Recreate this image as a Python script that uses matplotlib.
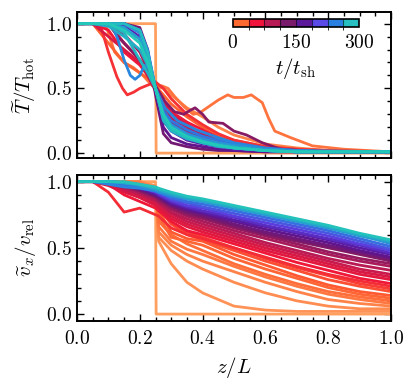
import numpy as np
import matplotlib
matplotlib.use("Agg")
import matplotlib.pyplot as plt
from matplotlib.colors import LinearSegmentedColormap, ListedColormap, BoundaryNorm, Normalize
from matplotlib.ticker import MultipleLocator

plt.rcParams['font.family'] = 'serif'
plt.rcParams['font.serif'] = ['cmr10', 'DejaVu Serif']
plt.rcParams['mathtext.fontset'] = 'cm'
plt.rcParams['axes.formatter.use_mathtext'] = True

# ---------------- colour map (time) ----------------
cmap_nodes = [0.0, 0.1, 0.2, 0.32, 0.44, 0.56, 0.69, 0.82, 1.0]
cmap_colors = ['#ffa060', '#ff6030', '#f01838', '#b81a55', '#7a1a68',
               '#5a1498', '#5a40e0', '#2a80e0', '#22c8b8']
cmap = LinearSegmentedColormap.from_list('tcmap', list(zip(cmap_nodes, cmap_colors)))
norm = Normalize(0, 300)
cbar_ticks = [0, 150, 300]
cbar_block_colors = ['#ff6a30', '#f0143c', '#b81a55', '#7a1a6a',
                     '#5a1a9a', '#5a4ae8', '#2a80e0', '#28c0c0']

# ---------------- top panel: temperature ----------------
step_z = [0.0, 0.25, 0.252, 1.0]
step_T = [1.0, 1.0, 0.0, 0.0]
step_v = [1.0, 1.0, 0.0, 0.0]
step_t = 0

zT = [0, 0.05, 0.1, 0.15, 0.2, 0.225, 0.25, 0.275, 0.3, 0.35, 0.4, 0.45, 0.5, 0.6, 0.7, 0.8, 1.0]
T_times = [15, 30, 60, 75, 90, 105, 140, 160, 180, 200, 220, 240, 260, 270, 280, 285, 290, 300]
T_rows = [
    [1, 1, 1, 0.85, 0.72, 0.62, 0.52, 0.50, 0.45, 0.35, 0.28, 0.20, 0.14, 0.07, 0.04, 0.02, 0.01],
    [1, 1, 0.85, 0.70, 0.62, 0.58, 0.52, 0.45, 0.38, 0.28, 0.20, 0.14, 0.10, 0.05, 0.03, 0.02, 0.01],
    [1, 1, 0.95, 0.78, 0.68, 0.60, 0.50, 0.40, 0.32, 0.24, 0.18, 0.12, 0.08, 0.04, 0.02, 0.01, 0.01],
    [1, 1, 0.90, 0.80, 0.70, 0.62, 0.50, 0.38, 0.30, 0.22, 0.15, 0.10, 0.07, 0.03, 0.02, 0.01, 0.01],
    [1, 1, 1, 0.85, 0.72, 0.60, 0.48, 0.35, 0.27, 0.20, 0.14, 0.09, 0.06, 0.03, 0.02, 0.01, 0.01],
    [1, 1, 1, 0.92, 0.78, 0.65, 0.50, 0.32, 0.24, 0.17, 0.12, 0.08, 0.05, 0.02, 0.01, 0.01, 0.01],
    [1, 1, 1, 1, 0.97, 0.80, 0.45, 0.15, 0.08, 0.05, 0.03, 0.02, 0.02, 0.01, 0.01, 0.01, 0.01],
    [1, 1, 1, 1, 0.95, 0.78, 0.48, 0.20, 0.12, 0.07, 0.05, 0.03, 0.02, 0.01, 0.01, 0.01, 0.01],
    [1, 1, 1, 0.98, 0.90, 0.75, 0.50, 0.25, 0.17, 0.10, 0.07, 0.05, 0.03, 0.02, 0.01, 0.01, 0.01],
    [1, 1, 1, 1, 0.93, 0.78, 0.50, 0.28, 0.20, 0.13, 0.09, 0.06, 0.04, 0.02, 0.01, 0.01, 0.01],
    [1, 1, 1, 0.97, 0.88, 0.72, 0.50, 0.30, 0.22, 0.15, 0.10, 0.07, 0.05, 0.02, 0.01, 0.01, 0.01],
    [1, 1, 1, 1, 0.95, 0.80, 0.50, 0.33, 0.25, 0.18, 0.13, 0.10, 0.07, 0.03, 0.02, 0.01, 0.01],
    [1, 1, 1, 1, 0.93, 0.75, 0.50, 0.30, 0.22, 0.15, 0.11, 0.08, 0.06, 0.03, 0.02, 0.01, 0.01],
    [1, 1, 1, 0.97, 0.88, 0.72, 0.50, 0.28, 0.20, 0.13, 0.09, 0.07, 0.05, 0.02, 0.01, 0.01, 0.01],
    [1, 1, 0.98, 0.90, 0.80, 0.68, 0.50, 0.25, 0.17, 0.11, 0.08, 0.05, 0.04, 0.02, 0.01, 0.01, 0.01],
    [1, 1, 1, 0.93, 0.72, 0.62, 0.50, 0.27, 0.19, 0.12, 0.08, 0.06, 0.04, 0.02, 0.01, 0.01, 0.01],
    [1, 1, 1, 1, 0.95, 0.78, 0.50, 0.27, 0.18, 0.12, 0.08, 0.06, 0.04, 0.02, 0.01, 0.01, 0.01],
    [1, 1, 1, 0.95, 0.85, 0.70, 0.50, 0.30, 0.20, 0.13, 0.09, 0.06, 0.04, 0.02, 0.01, 0.01, 0.01],
]

# individual, irregular temperature profiles
bump_t = 22
bump_z = [0, 0.09, 0.12, 0.15, 0.18, 0.21, 0.24, 0.27, 0.29, 0.31, 0.34, 0.37, 0.39, 0.42,
          0.45, 0.48, 0.50, 0.53, 0.555, 0.59, 0.61, 0.63, 0.68, 0.75, 0.85, 1.0]
bump_T = [1, 1, 0.78, 0.70, 0.66, 0.60, 0.52, 0.52, 0.50, 0.44, 0.36, 0.30, 0.31, 0.36,
          0.41, 0.45, 0.43, 0.43, 0.45, 0.39, 0.27, 0.17, 0.12, 0.056, 0.03, 0.01]

dip_t = 50
dip_z = [0, 0.073, 0.1, 0.127, 0.145, 0.16, 0.18, 0.2, 0.25, 0.275, 0.3, 0.35, 0.4, 0.45, 0.5, 0.6, 0.7, 0.8, 1.0]
dip_T = [1, 1, 0.78, 0.59, 0.50, 0.45, 0.47, 0.50, 0.55, 0.50, 0.42, 0.30, 0.22, 0.15, 0.10, 0.05, 0.03, 0.02, 0.01]

purp_t = 125
purp_z = [0, 0.1, 0.13, 0.17, 0.2, 0.23, 0.25, 0.28, 0.31, 0.34, 0.36, 0.376, 0.4, 0.42,
          0.465, 0.5, 0.54, 0.59, 0.65, 0.75, 1.0]
purp_T = [1, 1, 0.90, 0.80, 0.72, 0.62, 0.52, 0.40, 0.32, 0.30, 0.33, 0.35, 0.30, 0.24,
          0.23, 0.17, 0.14, 0.08, 0.03, 0.015, 0.01]

loop_t = 250
loop_z = [0, 0.11, 0.13, 0.15, 0.17, 0.185, 0.2, 0.215, 0.23, 0.25, 0.28, 0.32, 0.38,
          0.45, 0.5, 0.55, 0.6, 0.7, 1.0]
loop_T = [1, 1, 0.88, 0.72, 0.60, 0.57, 0.60, 0.68, 0.65, 0.50, 0.35, 0.25, 0.18,
          0.12, 0.08, 0.06, 0.04, 0.02, 0.01]

# ---------------- bottom panel: velocity ----------------
zv = [0, 0.05, 0.1, 0.15, 0.2, 0.25, 0.26, 0.3, 0.35, 0.4, 0.5, 0.6, 0.7, 0.8, 0.9, 1.0]
v_times = [6, 10, 15, 19, 24, 28, 33, 38, 45, 52, 60, 68, 75, 85, 95, 105, 115, 125,
           135, 145, 160, 175, 190, 205, 220, 235, 250, 265, 280, 295]
v_rows = [
    [1, 1, 1, 1, 1, 0.97, 0.55, 0.38, 0.24, 0.16, 0.06, 0.03, 0.02, 0.02, 0.02, 0.02],
    [1, 1, 1, 1, 1, 0.96, 0.58, 0.48, 0.40, 0.34, 0.24, 0.16, 0.10, 0.06, 0.04, 0.04],
    [1, 1, 1, 1, 1, 0.95, 0.62, 0.52, 0.45, 0.40, 0.32, 0.24, 0.17, 0.11, 0.08, 0.06],
    [1, 1, 1, 1, 0.99, 0.93, 0.66, 0.55, 0.49, 0.45, 0.36, 0.28, 0.21, 0.15, 0.11, 0.08],
    [1, 1, 1, 1, 0.98, 0.90, 0.70, 0.60, 0.53, 0.48, 0.38, 0.30, 0.23, 0.17, 0.13, 0.10],
    [1, 1, 1, 0.99, 0.96, 0.89, 0.74, 0.58, 0.55, 0.52, 0.42, 0.34, 0.27, 0.20, 0.15, 0.12],
    [1, 1, 1, 0.99, 0.95, 0.88, 0.78, 0.62, 0.57, 0.55, 0.45, 0.37, 0.29, 0.22, 0.17, 0.14],
    [1, 1, 1, 0.98, 0.92, 0.85, 0.80, 0.68, 0.60, 0.56, 0.48, 0.40, 0.33, 0.26, 0.21, 0.17],
    [1, 1, 0.98, 0.94, 0.90, 0.84, 0.80, 0.69, 0.62, 0.58, 0.50, 0.42, 0.35, 0.29, 0.23, 0.19],
    [1, 1, 0.92, 0.77, 0.80, 0.75, 0.74, 0.65, 0.60, 0.57, 0.50, 0.43, 0.36, 0.30, 0.25, 0.21],
    [1, 1, 0.98, 0.90, 0.85, 0.80, 0.78, 0.70, 0.63, 0.60, 0.53, 0.46, 0.39, 0.33, 0.27, 0.23],
    [1, 1, 0.97, 0.92, 0.88, 0.82, 0.80, 0.72, 0.66, 0.62, 0.55, 0.48, 0.42, 0.36, 0.30, 0.26],
    [1, 1, 0.98, 0.93, 0.88, 0.83, 0.81, 0.74, 0.68, 0.64, 0.57, 0.50, 0.44, 0.38, 0.32, 0.28],
    [1, 1, 0.99, 0.94, 0.90, 0.85, 0.83, 0.76, 0.70, 0.66, 0.59, 0.52, 0.46, 0.40, 0.34, 0.30],
    [1, 1, 0.99, 0.95, 0.91, 0.86, 0.84, 0.77, 0.72, 0.68, 0.61, 0.54, 0.48, 0.42, 0.37, 0.33],
    [1, 1, 0.99, 0.96, 0.92, 0.87, 0.85, 0.79, 0.74, 0.70, 0.63, 0.57, 0.51, 0.45, 0.40, 0.36],
    [1, 1, 1, 0.97, 0.93, 0.88, 0.86, 0.80, 0.75, 0.72, 0.65, 0.59, 0.53, 0.47, 0.42, 0.38],
    [1, 1, 1, 0.97, 0.93, 0.89, 0.87, 0.81, 0.76, 0.73, 0.66, 0.60, 0.55, 0.50, 0.45, 0.40],
    [1, 1, 1, 0.98, 0.94, 0.89, 0.88, 0.82, 0.77, 0.74, 0.67, 0.61, 0.56, 0.51, 0.46, 0.41],
    [1, 1, 1, 0.98, 0.94, 0.90, 0.88, 0.82, 0.78, 0.75, 0.68, 0.62, 0.57, 0.52, 0.47, 0.42],
    [1, 1, 1, 0.98, 0.95, 0.90, 0.89, 0.83, 0.79, 0.76, 0.70, 0.64, 0.59, 0.54, 0.48, 0.43],
    [1, 1, 1, 0.98, 0.95, 0.91, 0.90, 0.84, 0.80, 0.77, 0.71, 0.66, 0.61, 0.56, 0.50, 0.45],
    [1, 1, 1, 0.99, 0.96, 0.92, 0.90, 0.85, 0.81, 0.78, 0.73, 0.67, 0.62, 0.57, 0.52, 0.46],
    [1, 1, 1, 0.99, 0.96, 0.92, 0.91, 0.86, 0.82, 0.80, 0.74, 0.69, 0.64, 0.59, 0.53, 0.48],
    [1, 1, 1, 0.99, 0.97, 0.93, 0.92, 0.87, 0.84, 0.81, 0.76, 0.71, 0.66, 0.61, 0.55, 0.49],
    [1, 1, 0.99, 0.97, 0.96, 0.93, 0.92, 0.88, 0.85, 0.83, 0.78, 0.73, 0.68, 0.63, 0.57, 0.51],
    [1, 1, 0.98, 0.96, 0.95, 0.93, 0.92, 0.89, 0.87, 0.85, 0.80, 0.75, 0.70, 0.65, 0.60, 0.53],
    [1, 1, 1, 0.99, 0.97, 0.94, 0.93, 0.90, 0.87, 0.85, 0.80, 0.75, 0.70, 0.65, 0.59, 0.54],
    [1, 1, 1, 0.99, 0.98, 0.95, 0.94, 0.91, 0.88, 0.86, 0.81, 0.76, 0.71, 0.66, 0.60, 0.55],
    [1, 1, 1, 1, 0.98, 0.96, 0.95, 0.92, 0.89, 0.87, 0.82, 0.77, 0.72, 0.67, 0.61, 0.56],
]

# ---------------- figure ----------------
W, H = 416, 385
fig = plt.figure(figsize=(W / 100, H / 100), dpi=100)
ax1 = fig.add_axes([77 / W, 1 - 158.3 / H, 314 / W, 146.3 / H])
ax2 = fig.add_axes([77 / W, 1 - 320.7 / H, 314 / W, 145.7 / H], sharex=ax1)

lw = 2.0
T_curves = [(step_t, step_z, step_T)]
T_curves += [(t, zT, r) for t, r in zip(T_times, T_rows)]
T_curves += [(bump_t, bump_z, bump_T), (dip_t, dip_z, dip_T),
             (purp_t, purp_z, purp_T), (loop_t, loop_z, loop_T)]
T_curves.sort(key=lambda c: c[0])
for t, z, y in T_curves:
    ax1.plot(z, y, color=cmap(norm(t)), lw=lw, solid_joinstyle='round')

v_curves = [(step_t, step_z, step_v)] + [(t, zv, r) for t, r in zip(v_times, v_rows)]
v_curves.sort(key=lambda c: c[0])
for t, z, y in v_curves:
    ax2.plot(z, y, color=cmap(norm(t)), lw=lw, solid_joinstyle='round')

fs = 14
for ax in (ax1, ax2):
    ax.set_xlim(0, 1)
    ax.xaxis.set_major_locator(MultipleLocator(0.2))
    ax.xaxis.set_minor_locator(MultipleLocator(0.05))
    ax.yaxis.set_major_locator(MultipleLocator(0.5))
    ax.yaxis.set_minor_locator(MultipleLocator(0.1))
    ax.tick_params(which='both', direction='in', top=True, right=True, labelsize=fs, width=1.0)
    ax.tick_params(which='major', length=5)
    ax.tick_params(which='minor', length=3)
    ax.tick_params(axis='x', which='major', pad=7)
    for s in ax.spines.values():
        s.set_linewidth(1.4)

ax1.set_ylim(-0.04, 1.09)
ax2.set_ylim(-0.05, 1.05)
ax1.tick_params(labelbottom=False)
ax1.set_ylabel(r'$\widetilde{T}/T_{\rm hot}$', fontsize=fs + 1, labelpad=6)
ax2.set_ylabel(r'$\widetilde{v}_x/v_{\rm rel}$', fontsize=fs + 1, labelpad=6)
ax2.set_xlabel(r'$z/L$', fontsize=fs + 1, labelpad=5)

# colour bar inset (eight discrete blocks)
cax = fig.add_axes([232.7 / W, 1 - 26.7 / H, 126.6 / W, 7.4 / H])
bounds = np.linspace(0, 300, len(cbar_block_colors) + 1)
sm = matplotlib.cm.ScalarMappable(norm=BoundaryNorm(bounds, len(cbar_block_colors)),
                                  cmap=ListedColormap(cbar_block_colors))
cb = fig.colorbar(sm, cax=cax, orientation='horizontal', ticks=cbar_ticks, drawedges=True)
cb.outline.set_linewidth(1.2)
cb.dividers.set_linewidth(0.8)
cb.dividers.set_color((0, 0, 0, 0.6))
cax.tick_params(length=0, labelsize=fs, pad=5)
cb.set_label(r'$t/t_{\rm sh}$', fontsize=fs + 1, labelpad=3)

fig.savefig('out.png', dpi=100)
